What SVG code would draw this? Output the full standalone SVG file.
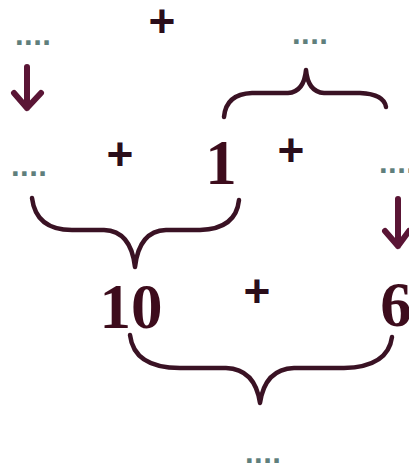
<svg xmlns="http://www.w3.org/2000/svg" width="409" height="470" viewBox="0 0 409 470">
<defs>
<style>
.num{font-family:"Liberation Serif","Times New Roman",serif;font-weight:bold;font-size:63px;fill:#3d0c1c;text-anchor:middle}
.plus{font-family:"Liberation Sans",Arial,sans-serif;font-weight:bold;font-size:46px;fill:#2a0d1a;text-anchor:middle}
.dots{font-family:"Liberation Sans",Arial,sans-serif;font-weight:bold;font-size:31px;fill:#5f7f7c;letter-spacing:0.5px}
.brace{fill:none;stroke:#3a1224;stroke-width:4.5;stroke-linecap:round;stroke-linejoin:round}
.arrow{fill:none;stroke:#5a1535;stroke-width:6;stroke-linecap:round;stroke-linejoin:round}
</style>
</defs>
<rect width="409" height="470" fill="#ffffff"/>
<g id="numbers">
<g id="n1"><text class="num" x="221" y="184">1</text></g>
<g id="n10"><text class="num" x="131" y="328">10</text></g>
<g id="n6"><text class="num" x="396" y="326">6</text></g>
</g>
<g id="plus-signs">
<g id="p-top"><text class="plus" x="162" y="37">+</text></g>
<g id="p-left"><text class="plus" x="120" y="170">+</text></g>
<g id="p-right"><text class="plus" x="291" y="166">+</text></g>
<g id="p-bottom"><text class="plus" x="257" y="307">+</text></g>
</g>
<g id="blanks">
<g id="d-topleft"><text class="dots" x="15" y="45">....</text></g>
<g id="d-topright"><text class="dots" x="292" y="44">....</text></g>
<g id="d-midleft"><text class="dots" x="11" y="176">....</text></g>
<g id="d-midright"><text class="dots" x="379" y="173">....</text></g>
<g id="d-bottom"><text class="dots" x="245" y="463">....</text></g>
</g>
<g id="connectors">
<path class="brace" d="M224,117 Q226,94 252,93 L288,93 Q304,92 306,70 Q308,92 324,93 L360,93 Q384,94 386,107"/>
<path class="brace" d="M32,198 Q36,230 72,230 L104,230 Q131,231 135,267 Q139,231 166,230 L200,230 Q236,229 239,200"/>
<path class="brace" d="M130,335 Q134,368 180,368 L226,368 Q255,369 260,403 Q265,369 294,368 L344,368 Q388,367 392,337"/>
<path class="arrow" d="M27,67 L27,108 M14,93 L27,108 L41,93"/>
<path class="arrow" d="M398,199 L398,246 M385,231 L398,246 L409,231"/>
</g>
</svg>
